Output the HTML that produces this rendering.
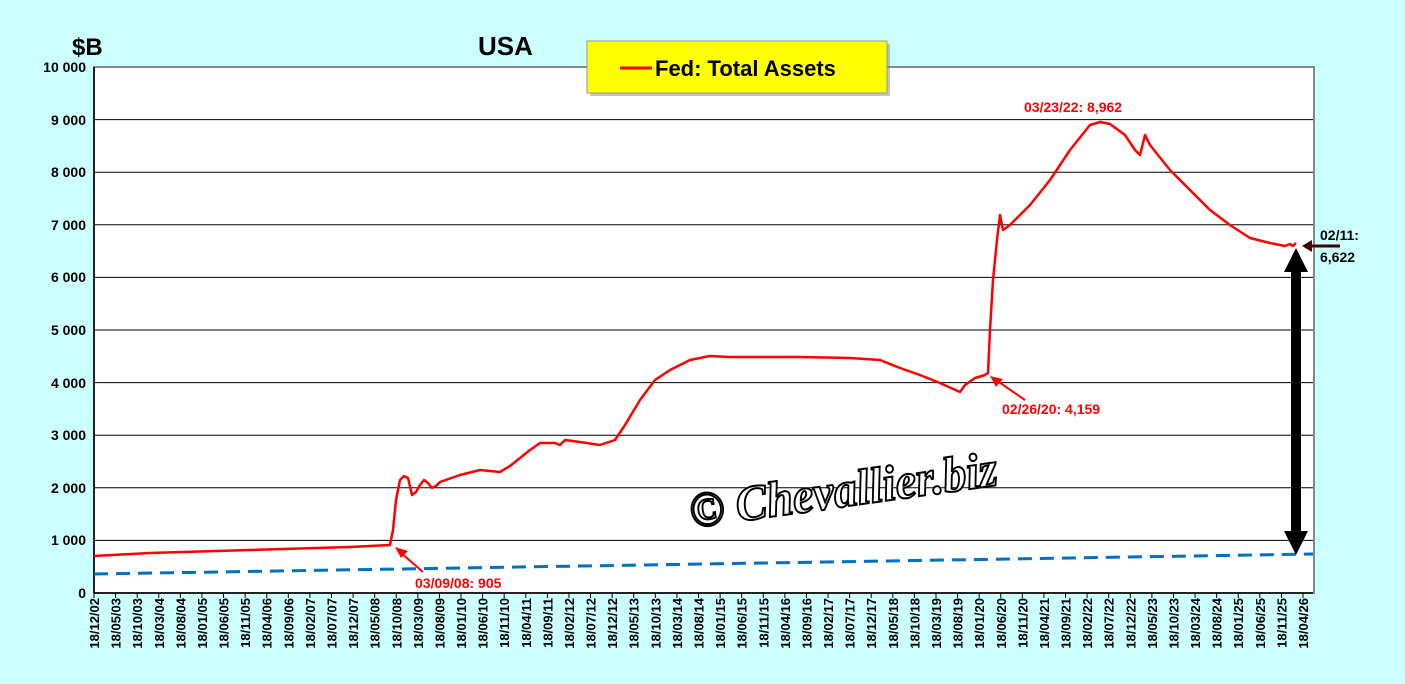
<!DOCTYPE html>
<html><head><style>
body{margin:0;width:1405px;height:679px;background:#ccffff;overflow:hidden;font-family:"Liberation Sans",Arial,sans-serif}
</style></head><body>
<svg width="1405" height="679" xmlns="http://www.w3.org/2000/svg" font-family="Liberation Sans, Arial, sans-serif">
<rect x="94" y="67" width="1220" height="526" fill="#fff" stroke="#888" stroke-width="2"/>
<g stroke="#000" stroke-width="1">
<line x1="94" x2="1313" y1="119.6" y2="119.6"/><line x1="94" x2="1313" y1="172.2" y2="172.2"/>
<line x1="94" x2="1313" y1="224.8" y2="224.8"/><line x1="94" x2="1313" y1="277.4" y2="277.4"/>
<line x1="94" x2="1313" y1="330" y2="330"/><line x1="94" x2="1313" y1="382.6" y2="382.6"/>
<line x1="94" x2="1313" y1="435.2" y2="435.2"/><line x1="94" x2="1313" y1="487.8" y2="487.8"/>
<line x1="94" x2="1313" y1="540.4" y2="540.4"/>
</g>
<line x1="94" y1="67" x2="94" y2="593" stroke="#000" stroke-width="1.5"/>
<line x1="94" y1="593" x2="1313" y2="593" stroke="#000" stroke-width="1.5"/>
<g font-size="14" font-weight="bold" text-anchor="end" fill="#000">
<text x="86" y="72">10 000</text><text x="86" y="125">9 000</text><text x="86" y="177">8 000</text>
<text x="86" y="230">7 000</text><text x="86" y="282">6 000</text><text x="86" y="335">5 000</text>
<text x="86" y="388">4 000</text><text x="86" y="440">3 000</text><text x="86" y="493">2 000</text>
<text x="86" y="545">1 000</text><text x="86" y="598">0</text>
</g>
<g id="xl" font-size="13" font-weight="bold" fill="#000" text-anchor="end"></g>
<text x="72" y="55" font-size="24" font-weight="bold">$B</text>
<text x="478" y="55" font-size="26" font-weight="bold">USA</text>
<rect x="590" y="44" width="300" height="52" fill="#888" opacity="0.5"/>
<rect x="587" y="41" width="300" height="52" fill="#ffff00" stroke="#999"/>
<line x1="620" y1="68" x2="652" y2="68" stroke="#f00" stroke-width="3"/>
<text x="655" y="76" font-size="22" font-weight="bold">Fed: Total Assets</text>
<line x1="94" y1="574" x2="1313" y2="554" stroke="#0070c0" stroke-width="3" stroke-dasharray="14,8"/>
<polyline fill="none" stroke="#f00" stroke-width="2.5" stroke-linejoin="round" points="94,556 150,553 250,550 350,547 390,545 393,530 396,500 400,480 404,476 408,478 412,495 416,492 420,485 424,480 428,483 432,488 436,486 440,482 460,475 480,470 500,472 510,466 530,450 540,443 555,443 560,445 565,440 580,442 600,445 615,440 625,425 640,400 655,380 670,370 690,360 710,356 730,357 800,357 850,358 880,360 900,368 920,375 940,383 960,392 965,385 975,378 985,375 988,373 990,330 993,280 997,240 1000,215 1003,230 1010,225 1030,205 1050,180 1070,150 1090,125 1100,122 1110,124 1125,135 1135,150 1140,155 1145,135 1150,145 1170,170 1190,190 1210,210 1230,225 1250,238 1270,243 1285,246 1290,244 1293,246 1296,243"/>
<g fill="#f00" font-size="14" font-weight="bold">
<text x="1024" y="112">03/23/22: 8,962</text>
<text x="1002" y="414">02/26/20: 4,159</text>
<text x="415" y="588">03/09/08: 905</text>
</g>
<line x1="423" y1="572" x2="400" y2="552" stroke="#f00" stroke-width="2"/>
<polygon points="395,547 408,551 401,558" fill="#f00"/>
<line x1="1025" y1="400" x2="996" y2="380" stroke="#f00" stroke-width="2"/>
<polygon points="990,376 1003,379 996,387" fill="#f00"/>
<line x1="1340" y1="246" x2="1308" y2="246" stroke="#400000" stroke-width="3"/>
<polygon points="1302,246 1312,240 1312,252" fill="#400000"/>
<text x="1320" y="240" font-size="14" font-weight="bold">02/11:</text>
<text x="1320" y="262" font-size="14" font-weight="bold">6,622</text>
<line x1="1296" y1="265" x2="1296" y2="535" stroke="#000" stroke-width="10"/>
<polygon points="1296,248 1284,272 1308,272" fill="#000"/>
<polygon points="1296,555 1284,531 1308,531" fill="#000"/>
<text x="692" y="528" font-family="Liberation Serif, serif" font-style="italic" font-weight="bold" font-size="50" fill="#fff" stroke="#000" stroke-width="2" textLength="310" lengthAdjust="spacingAndGlyphs" transform="rotate(-8 692 528)">© Chevallier.biz</text>
</svg>
<script>
var g=document.getElementById('xl'),s='',y=2,m=12;
for(var i=0;i<57;i++){var x=94+i*1209/56;
s+='<line x1="'+x+'" y1="593" x2="'+x+'" y2="598" stroke="#000"/>';
s+='<text transform="translate('+(x+5)+',598) rotate(-90)">18/'+(m<10?'0':'')+m+'/'+(y<10?'0':'')+y+'</text>';
m+=5;if(m>12){m-=12;y++;}}
g.innerHTML=s;
</script>
</body></html>
